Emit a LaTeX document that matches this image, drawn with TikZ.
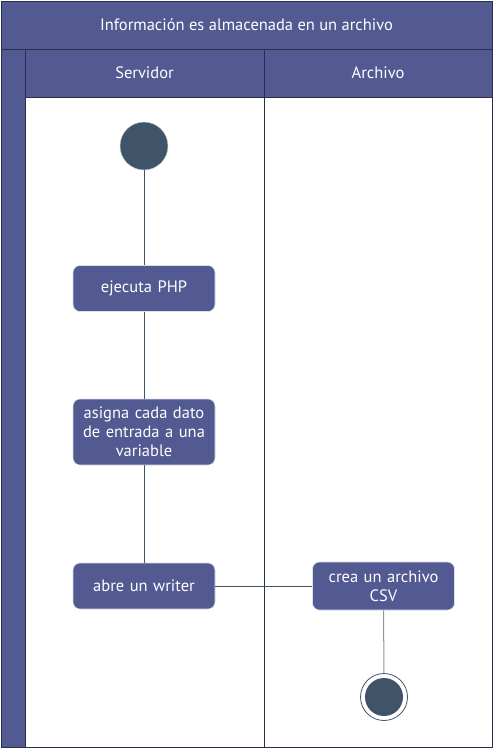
\documentclass[tikz,border=0pt]{standalone}
\usepackage{fontspec}
\setmainfont{PT Sans}
\definecolor{lanefill}{HTML}{525A91}
\definecolor{laneline}{HTML}{2B2F4C}
\definecolor{nodedark}{HTML}{3F5468}
\definecolor{lightline}{HTML}{8A96A6}
\begin{document}
\begin{tikzpicture}[x=1pt,y=-1pt,
  hdr/.style={fill=lanefill,draw=laneline,line width=1pt},
  lane/.style={fill=white,draw=laneline,line width=1pt},
  act/.style={rectangle,rounded corners=7pt,fill=lanefill,draw=white!80!lanefill,line width=0.6pt,
     text=white,font=\fontsize{16.5}{19}\selectfont,align=center,minimum width=142pt,text width=135pt},
  htext/.style={text=white,font=\fontsize{16.5}{19}\selectfont},
  flow/.style={draw=nodedark,line width=0.9pt},
  flowlight/.style={draw=lightline,line width=1pt}]
\useasboundingbox (0,0) rectangle (493,748);
\fill[white] (0,0) rectangle (493,748);
% pool
\draw[hdr] (1,1) rectangle (492,747);
\draw[hdr] (1,1) rectangle (492,49);
\draw[hdr] (25,49) rectangle (264,97);
\draw[hdr] (264,49) rectangle (492,97);
\draw[lane] (25,97) rectangle (264,747);
\draw[lane] (264,97) rectangle (492,747);
\node[htext] (title) at (246.5,25) {Información es almacenada en un archivo};
\node[htext] (h1) at (144.5,73) {Servidor};
\node[htext] (h2) at (378,73) {Archivo};
% nodes
\node[circle,fill=nodedark,draw=white!70!nodedark,line width=0.5pt,minimum size=48pt,inner sep=0pt] (start) at (144,146) {};
\node[act,minimum height=46pt] (a1) at (144,288.5) {ejecuta PHP};
\node[act,minimum height=66pt] (a2) at (144,432) {asigna cada dato\\de entrada a una\\variable};
\node[act,minimum height=46pt] (a3) at (144,586) {abre un writer};
\node[act,minimum height=48pt] (a4) at (383.5,586) {crea un archivo\\CSV};
\node[circle,draw=nodedark,fill=white,line width=0.8pt,minimum size=47pt,inner sep=0pt] (end) at (384,697) {};
\node[circle,fill=nodedark,minimum size=38pt,inner sep=0pt] (endin) at (384,697) {};
% flows
\draw[flow] (start) -- (a1);
\draw[flow] (a1) -- (a2);
\draw[flow] (a2) -- (a3);
\draw[flow] (a3) -- (a4);
\draw[flowlight] (a4) -- (end);
\end{tikzpicture}
\end{document}
